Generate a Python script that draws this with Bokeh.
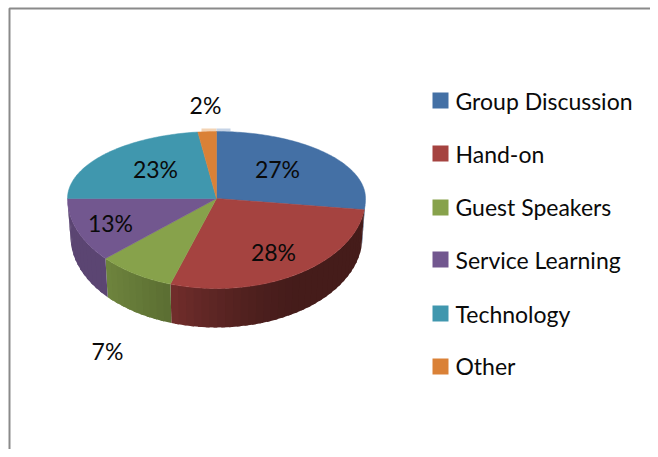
import math
from bokeh.plotting import figure
from bokeh.embed import file_html
from bokeh.resources import INLINE
from bokeh.core.properties import value

categories = ["Group Discussion", "Hand-on", "Guest Speakers", "Service Learning", "Technology", "Other"]
values = [27, 28, 7, 13, 23, 2]
tick_labels = ["27%", "28%", "7%", "13%", "23%", "2%"]
colors = ["#4470a5", "#a54340", "#87a24b", "#72578f", "#4097ae", "#da8137"]
label_x = [277, 273, 107, 110, 155, 205]
label_y = [168, 251, 350, 222, 168, 104]
legend_y = [92, 145, 199, 251, 305, 358]
legend_text_y = [100, 153, 206, 259, 313, 365]

FONT = "Lato"
W, H = 650, 449
p = figure(width=W, height=H, x_range=(0, W), y_range=(H, 0), output_backend="svg",
           toolbar_location=None, min_border=0)
p.axis.visible = False
p.grid.visible = False
p.outline_line_color = None
p.background_fill_color = "white"

# frame
p.line([9, 9, W], [H, 8, 8], line_color="#8a8a8a", line_width=2)

cx, cy, rx, ry_back, ry_front = 216, 198, 149, 67, 90
bcx, bcy, brx, bry_back, bry_front = 216, 236, 146, 67, 91


def warp(deg):
    """Slight perspective distortion of the lower-left quadrant of the tilted pie."""
    if 198 < deg < 270:
        return deg + 5.6 * math.sin(math.pi * (deg - 198) / 72)
    return deg


def rim(deg, c_x, c_y, r_x, r_b, r_f):
    t = math.radians(deg)
    c = math.cos(t)
    return c_x + r_x * math.sin(t), c_y - c * (r_b if c > 0 else r_f)


def shade(hex_color, f):
    r, g, b = (int(hex_color[i:i + 2], 16) for i in (1, 3, 5))
    return "#%02x%02x%02x" % (int(r * f), int(g * f), int(b * f))


total = sum(values)
edges = [0.0]
for v in values:
    edges.append(edges[-1] + v / total * 360)
edges = [warp(e) for e in edges]

# side wall, front half only, in thin shaded strips that overlap to hide seams
for i, col in enumerate(colors):
    a0, a1 = max(edges[i], 90), min(edges[i + 1], 270)
    if a1 <= a0:
        continue
    n = max(2, int((a1 - a0) / 3))
    for k in range(n):
        s0 = a0 + (a1 - a0) * k / n
        s1 = a0 + (a1 - a0) * (k + 1) / n
        mid = (rim(s0, cx, cy, rx, ry_back, ry_front)[0] + rim(s1, cx, cy, rx, ry_back, ry_front)[0]) / 2
        s1 = min(s1 + 1.5, a1)
        xs0, ys0 = rim(s0, cx, cy, rx, ry_back, ry_front)
        xs1, ys1 = rim(s1, cx, cy, rx, ry_back, ry_front)
        xb0, yb0 = rim(s0, bcx, bcy, brx, bry_back, bry_front)
        xb1, yb1 = rim(s1, bcx, bcy, brx, bry_back, bry_front)
        if i == 1:
            f = min(0.42 + 0.28 * max(0.0, (300 - mid) / 133) ** 1.5, 0.72)
        elif i == 2:
            f = 0.82 - 0.14 * (mid - 105) / 64
        else:
            f = 0.8
        c = shade(col, f)
        p.patch([xs0, xs1, xb1, xb0], [ys0, ys1, yb1, yb0], fill_color=c, line_color=None)

# pale fringe at the back of the top face
p.quad(left=[201, 216], right=[216, 230], top=[128, 128], bottom=[131, 131],
       fill_color=["#f3d3b4", "#c5d3e6"], line_color=None)

# top face
for i, col in enumerate(colors):
    a0, a1 = edges[i], edges[i + 1]
    n = max(2, int(a1 - a0))
    pts = [rim(a0 + (a1 - a0) * k / n, cx, cy, rx, ry_back, ry_front) for k in range(n + 1)]
    xs = [cx] + [q[0] for q in pts]
    ys = [cy] + [q[1] for q in pts]
    p.patch(xs, ys, fill_color=col, line_color=col, line_width=0.5)

# data labels
p.text(x=label_x, y=label_y, text=tick_labels, text_font=value(FONT), text_font_size="23px",
       text_align="center", text_baseline="middle", text_color="#0a0a0a")

# legend
p.quad(left=[432] * 6, right=[448] * 6, top=legend_y,
       bottom=[y + 16 for y in legend_y], fill_color=colors, line_color=None)
p.text(x=[455] * 6, y=legend_text_y, text=categories, text_font=value(FONT), text_font_size="23px",
       text_align="left", text_baseline="middle", text_color="#0a0a0a")

open("out.html", "w").write(file_html(p, INLINE))
